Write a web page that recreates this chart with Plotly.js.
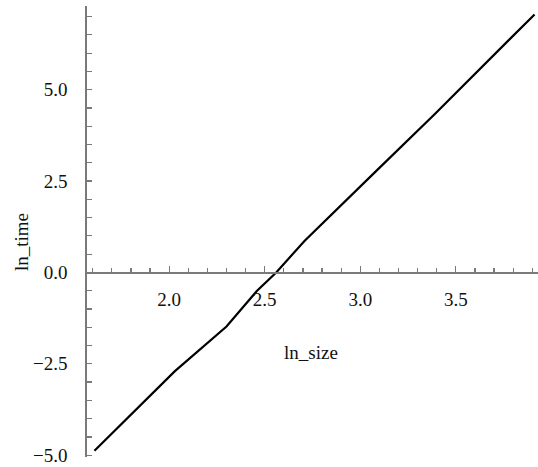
<!DOCTYPE html>
<html>
<head>
<meta charset="utf-8">
<script src="https://cdn.plot.ly/plotly-3.0.1.min.js"></script>
<style>
  html, body { margin: 0; padding: 0; background: #fff; }
  #plot { width: 538px; height: 467px; }
</style>
</head>
<body>
<div id="plot"></div>
<script>
// ln_size vs ln_time
var lnSize = [1.609, 2.03, 2.30, 2.46, 2.56, 2.708, 3.10, 3.389, 3.912];
var lnTime = [-4.88, -2.70, -1.48, -0.50, 0.0, 0.86, 2.86, 4.33, 7.06];

var xTicks = [2.0, 2.5, 3.0, 3.5];
var yTicks = [-5.0, -2.5, 0.0, 2.5, 5.0];

var xRange = [1.57, 3.93];
var yRange = [-5.05, 7.29];

var serif = {family: 'Liberation Serif, Times New Roman, serif', size: 19, color: '#111'};
var axisCol = '#7a7a7a';

var data = [{
  x: lnSize,
  y: lnTime,
  mode: 'lines',
  type: 'scatter',
  line: {color: '#000', width: 2.2},
  hoverinfo: 'none'
}];

// x axis sits where y = 0
var xPos = (0 - yRange[0]) / (yRange[1] - yRange[0]);

var layout = {
  width: 538,
  height: 467,
  margin: {l: 87, r: 0, t: 6, b: 10},
  paper_bgcolor: '#fff',
  plot_bgcolor: '#fff',
  showlegend: false,
  font: serif,
  xaxis: {
    range: xRange,
    anchor: 'free',
    position: xPos,
    showgrid: false,
    zeroline: false,
    showline: true,
    linecolor: axisCol,
    linewidth: 1.5,
    tickmode: 'array',
    tickvals: xTicks,
    tickformat: '.1f',
    ticks: 'inside',
    ticklen: 6,
    tickwidth: 1.3,
    tickcolor: axisCol,
    ticklabelstandoff: 9,
    ticklabeloverflow: 'allow',
    tickfont: serif,
    minor: {dtick: 0.1, tick0: 2.0, ticks: 'inside', ticklen: 4, tickwidth: 1.2, tickcolor: axisCol, showgrid: false}
  },
  yaxis: {
    range: yRange,
    showgrid: false,
    zeroline: false,
    showline: true,
    linecolor: axisCol,
    linewidth: 1.8,
    tickmode: 'array',
    tickvals: yTicks,
    tickformat: '.1f',
    ticks: 'inside',
    ticklen: 5,
    tickwidth: 1.3,
    tickcolor: axisCol,
    ticklabelstandoff: 14,
    ticklabeloverflow: 'allow',
    tickfont: serif,
    minor: {dtick: 0.5, tick0: 0, ticks: 'inside', ticklen: 5, tickwidth: 1.2, tickcolor: axisCol, showgrid: false}
  },
  annotations: [
    {text: 'ln_size', xref: 'paper', yref: 'paper', x: (311 - 87) / 451, y: (467 - 10 - 352) / 451,
     showarrow: false, font: serif, xanchor: 'center', yanchor: 'middle'},
    {text: 'ln_time', xref: 'paper', yref: 'paper', x: (22 - 87) / 451, y: (467 - 10 - 242) / 451,
     showarrow: false, font: serif, textangle: -90, xanchor: 'center', yanchor: 'middle'}
  ]
};

Plotly.newPlot('plot', data, layout, {displayModeBar: false, staticPlot: true});
</script>
</body>
</html>
